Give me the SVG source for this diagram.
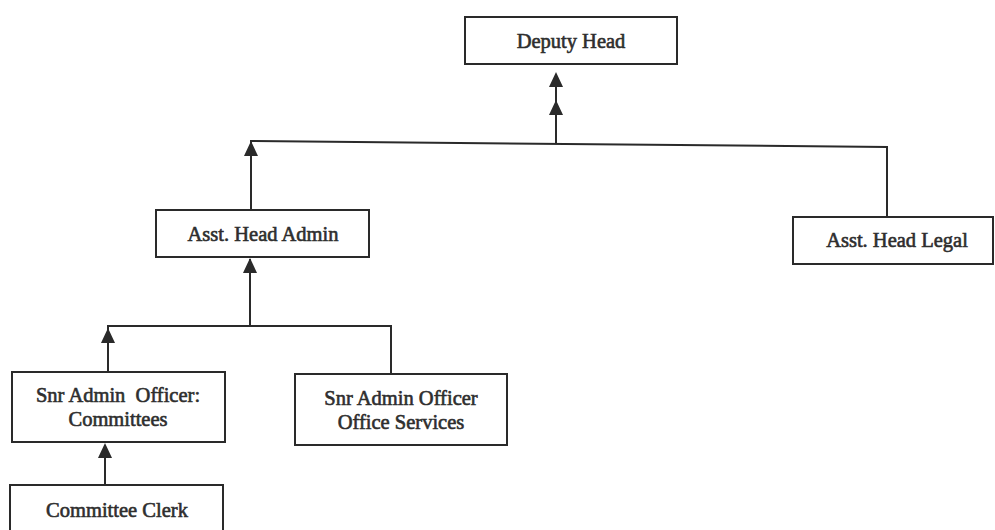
<svg xmlns="http://www.w3.org/2000/svg" xmlns:xlink="http://www.w3.org/1999/xlink" width="995" height="530" viewBox="0 0 995 530">
<style>
.box{fill:#fff;stroke:#2a2a2a;stroke-width:2}
.lbl{font-family:"Liberation Serif","Times New Roman",serif;font-size:20.5px;fill:#2e2e2e;stroke:#2e2e2e;stroke-width:0.6;text-anchor:middle}
.wire{fill:none;stroke:#2a2a2a;stroke-width:2}
</style>
<defs>
<path id="arrow" d="M0,0 L7,15 L-7,15 Z" fill="#2a2a2a"/>
</defs>
<rect width="995" height="530" fill="#fff"/>
<g id="connectors">
<path class="wire" d="M556,144 V74"/>
<use xlink:href="#arrow" x="556" y="72"/>
<use xlink:href="#arrow" x="556" y="100"/>
<path class="wire" d="M251,210 V141 L887,147 V218"/>
<use xlink:href="#arrow" x="251" y="141"/>
<path class="wire" d="M250,326 V259"/>
<use xlink:href="#arrow" x="250" y="258"/>
<path class="wire" d="M108,372 V326 H391 V374"/>
<use xlink:href="#arrow" x="108" y="328"/>
<path class="wire" d="M105,485 V445"/>
<use xlink:href="#arrow" x="105" y="443"/>
</g>
<g id="deputy-head">
<rect class="box" x="465" y="17" width="212" height="47"/>
<text class="lbl" x="571" y="48">Deputy Head</text>
</g>
<g id="asst-head-admin">
<rect class="box" x="156" y="210" width="213" height="47"/>
<text class="lbl" x="263" y="241">Asst. Head Admin</text>
</g>
<g id="asst-head-legal">
<rect class="box" x="793" y="217" width="200" height="47"/>
<text class="lbl" x="897" y="247">Asst. Head Legal</text>
</g>
<g id="snr-admin-committees">
<rect class="box" x="12" y="372" width="213" height="70"/>
<text class="lbl" x="118" y="402" xml:space="preserve">Snr Admin  Officer:</text>
<text class="lbl" x="118" y="426">Committees</text>
</g>
<g id="snr-admin-office-services">
<rect class="box" x="295" y="374" width="212" height="71"/>
<text class="lbl" x="401" y="405">Snr Admin Officer</text>
<text class="lbl" x="401" y="429">Office Services</text>
</g>
<g id="committee-clerk">
<rect class="box" x="10" y="485" width="213" height="60"/>
<text class="lbl" x="117" y="517">Committee Clerk</text>
</g>
</svg>
